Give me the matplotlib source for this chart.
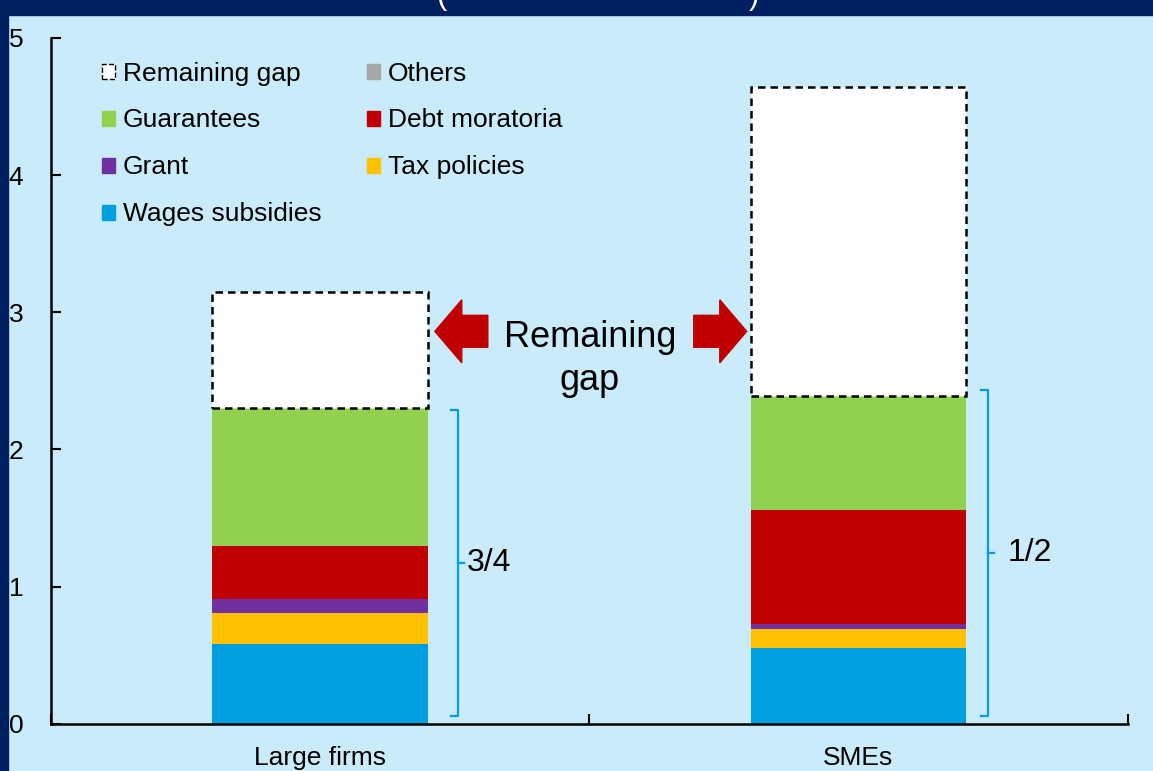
import numpy as np
import matplotlib.pyplot as plt
from matplotlib.patches import Patch, FancyArrow, Rectangle

plt.rcParams['font.family'] = ['Liberation Sans', 'DejaVu Sans']

# data
categories = ["Large firms", "SMEs"]
series_names = ["Wages subsidies", "Tax policies", "Grant", "Debt moratoria", "Guarantees", "Others"]
wages = [0.58, 0.55]
tax = [0.23, 0.14]
grant = [0.10, 0.04]
debt = [0.39, 0.83]
guarantees = [1.00, 0.83]
others = [0.0, 0.0]
remaining_gap = [0.85, 2.25]
share_labels = ["3/4", "1/2"]

BG = "#CAEBFA"
NAVY = "#001F60"
colors = ["#009FDF", "#FFC000", "#7030A0", "#C00000", "#92D050", "#A6A6A6"]

fig = plt.figure(figsize=(11.53, 7.71), dpi=100, facecolor=BG)
ax = fig.add_axes([0.0442, 0.061, 0.9338, 0.890])
ax.set_facecolor(BG)

x = np.arange(len(categories))
width = 0.4
bottom = np.zeros(len(categories))
for name, vals, c in zip(series_names, [wages, tax, grant, debt, guarantees, others], colors):
    ax.bar(x, vals, width, bottom=bottom, color=c, label=name, zorder=2)
    bottom += np.array(vals)
covered = bottom.copy()
ax.bar(x, remaining_gap, width, bottom=bottom, facecolor="white", edgecolor="black",
       linestyle=(0, (3, 2)), linewidth=1.8, zorder=3)

# brackets showing covered share
br_x = [0.256, 1.24]
br_top = [covered[0] - 0.01, covered[1] + 0.04]
lbl_gap = [0.006, 0.026]
for i in range(len(categories)):
    bx, top, bot = br_x[i], br_top[i], 0.06
    mid = (top + bot) / 2
    ax.plot([bx - 0.012, bx, bx, bx - 0.012], [top, top, bot, bot], color="#009FDF", lw=1.6, zorder=4)
    ax.plot([bx, bx + 0.011], [mid, mid], color="#009FDF", lw=1.6, zorder=4)
    ax.text(bx + 0.011 + lbl_gap[i], mid, share_labels[i], fontsize=23, va="center", ha="left")

# arrows + label
ax.add_patch(FancyArrow(0.3115, 2.861, -0.0984, 0, width=0.233, head_width=0.459,
                        head_length=0.050, length_includes_head=True, color="#C00000", zorder=4))
ax.add_patch(FancyArrow(0.694, 2.861, 0.0984, 0, width=0.233, head_width=0.459,
                        head_length=0.050, length_includes_head=True, color="#C00000", zorder=4))
ax.text(0.501, 2.66, "Remaining\ngap", fontsize=26, ha="center", va="center", linespacing=1.3)

ax.set_xlim(-0.5, 1.5)
ax.set_ylim(0, 5)
ax.set_yticks([0, 1, 2, 3, 4, 5])
ax.tick_params(axis="y", direction="in", length=7, width=1.5, labelsize=19, pad=20)
ax.set_xticks([-0.5, 0.5, 1.5])
ax.set_xticklabels([])
ax.set_xticks(x, minor=True)
ax.set_xticklabels(categories, minor=True)
ax.tick_params(axis="x", which="major", direction="in", length=7, width=1.5)
ax.tick_params(axis="x", which="minor", length=0, labelsize=19, pad=16)
for s in ["top", "right"]:
    ax.spines[s].set_visible(False)
for s in ["left", "bottom"]:
    ax.spines[s].set_linewidth(1.8)

# legend
handles = [Patch(facecolor="white", edgecolor="black", linestyle="--", label="Remaining gap"),
           Patch(color=colors[4], label="Guarantees"),
           Patch(color=colors[2], label="Grant"),
           Patch(color=colors[0], label="Wages subsidies"),
           Patch(color=colors[5], label="Others"),
           Patch(color=colors[3], label="Debt moratoria"),
           Patch(color=colors[1], label="Tax policies")]
ax.legend(handles=handles, ncol=2, loc="upper left", bbox_to_anchor=(0.025, 1.0), frameon=False,
          fontsize=19, handlelength=0.5, handleheight=0.5, handletextpad=0.3,
          labelspacing=0.87, columnspacing=1.72)

# navy frame strips and clipped title
fig.add_artist(Rectangle((0, 0), 8 / 1153, 1, transform=fig.transFigure, color=NAVY, zorder=10))
fig.add_artist(Rectangle((0, 1 - 15 / 771), 1, 15 / 771, transform=fig.transFigure, color=NAVY, zorder=10))
fig.text(441 / 1153, 0.995, "(", color="white", fontsize=22, ha="center", va="baseline", zorder=11)
fig.text(754 / 1153, 0.995, ")", color="white", fontsize=22, ha="center", va="baseline", zorder=11)

fig.savefig("out.png", dpi=100, facecolor=BG)
